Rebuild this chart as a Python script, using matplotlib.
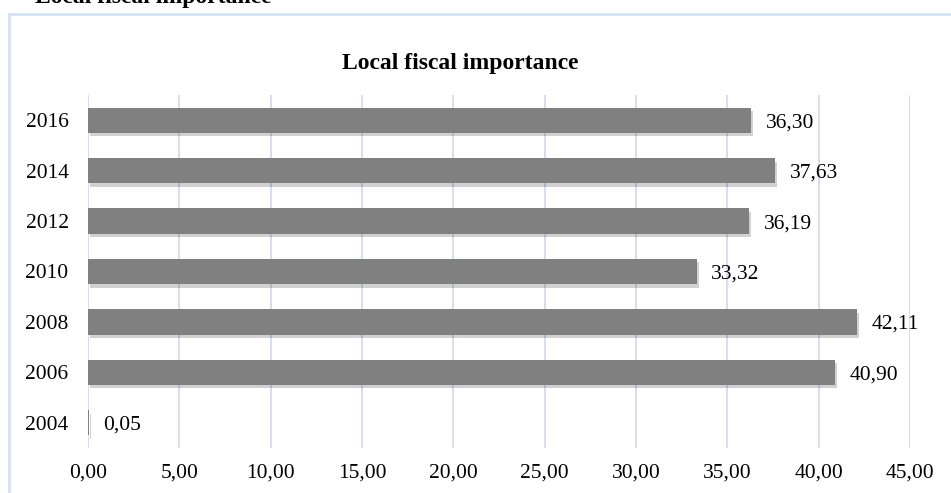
import matplotlib
matplotlib.use("Agg")
import matplotlib.pyplot as plt
import matplotlib.patheffects as pe
from matplotlib.patches import Rectangle

years = ["2004", "2006", "2008", "2010", "2012", "2014", "2016"]
values = [0.05, 40.90, 42.11, 33.32, 36.19, 37.63, 36.30]
value_labels = ["0,05", "40,90", "42,11", "33,32", "36,19", "37,63", "36,30"]
xticks = [0, 5, 10, 15, 20, 25, 30, 35, 40, 45]
xtick_labels = ["0,00", "5,00", "10,00", "15,00", "20,00", "25,00", "30,00", "35,00", "40,00", "45,00"]
title = "Local fiscal importance"

plt.rcParams['font.family'] = ['Liberation Serif', 'DejaVu Serif']
FS = 15.5

W, H = 951, 493
fig = plt.figure(figsize=(W / 100, H / 100), dpi=100)
fig.patch.set_facecolor("white")

# outer frame
fig.patches.append(Rectangle((9 / W, -0.1), 1.2, 1.1 - 14 / H, transform=fig.transFigure,
                             fill=False, edgecolor="#D6E1F2", linewidth=2, zorder=0))
# cut-off heading at top
fig.text(35 / W, 1 - 2.5 / H, title, fontsize=17, fontweight="bold", ha="left", va="baseline")

ax = fig.add_axes([88 / W, 1 - 448 / H, (910 - 88) / W, (448 - 95) / H])
ypos = list(range(len(years)))
bars = ax.barh(ypos, values, height=0.5, color="#808080", zorder=3)
for b in bars:
    b.set_path_effects([pe.SimplePatchShadow(offset=(1.5, -2.5), alpha=0.18, shadow_rgbFace="#000000"),
                        pe.Normal()])

for y, v, lab in zip(ypos, values, value_labels):
    ax.annotate(lab, (v, y), xytext=(10.5, 0), textcoords="offset points",
                va="center_baseline", ha="left", fontsize=FS, color="#000000")

ax.set_xlim(0, 45)
ax.set_ylim(-0.5, len(years) - 0.5)
ax.set_xticks(xticks)
ax.set_xticklabels(xtick_labels, fontsize=FS)
ax.set_yticks(ypos)
ax.set_yticklabels(years, fontsize=FS)
ax.tick_params(length=0, pad=14)
ax.tick_params(axis="x", pad=11)
ax.grid(axis="x", color="#CCDAEE", linewidth=1.2, zorder=0)
for s in ax.spines.values():
    s.set_visible(False)

fig.text(460 / W, 1 - 63 / H, title, fontsize=17, fontweight="bold", ha="center", va="center")

fig.savefig("out.png", dpi=100)
